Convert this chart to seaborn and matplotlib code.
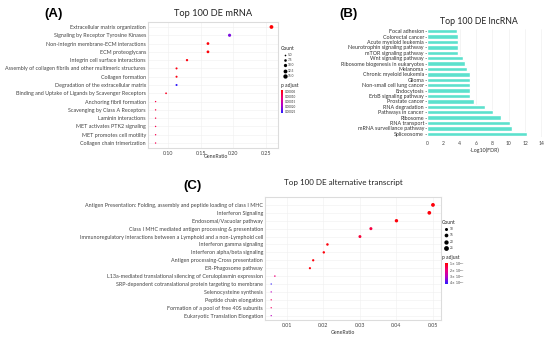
import numpy as np
import pandas as pd
import matplotlib
matplotlib.use("Agg")
import matplotlib.pyplot as plt
import seaborn as sns
from matplotlib.colors import LinearSegmentedColormap, Normalize
import matplotlib.cm as cm

W, H = 550, 339
sns.set_theme(style="white")
plt.rcParams['font.family'] = ['Lato', 'DejaVu Sans']

# ---------------- data ----------------
a_terms = ["Extracellular matrix organization",
           "Signaling by Receptor Tyrosine Kinases",
           "Non-integrin membrane-ECM interactions",
           "ECM proteoglycans",
           "Integrin cell surface interactions",
           "Assembly of collagen fibrils and other multimeric structures",
           "Collagen formation",
           "Degradation of the extracellular matrix",
           "Binding and Uptake of Ligands by Scavenger Receptors",
           "Anchoring fibril formation",
           "Scavenging by Class A Receptors",
           "Laminin interactions",
           "MET activates PTK2 signaling",
           "MET promotes cell motility",
           "Collagen chain trimerization"]
a_ratio = [0.258, 0.194, 0.161, 0.161, 0.129, 0.113, 0.113, 0.113, 0.097,
           0.081, 0.081, 0.081, 0.081, 0.081, 0.081]
a_count = [16, 12, 10, 10, 8, 7, 7, 7, 6, 5, 5, 5, 5, 5, 5]
a_padj = [4.0e-5, 2.2e-4, 4.3e-5, 4.3e-5, 4.6e-5, 4.8e-5, 4.8e-5, 2.6e-4, 6.0e-5,
          8.0e-5, 8.0e-5, 8.0e-5, 8.5e-5, 8.5e-5, 9.0e-5]
a_ticks = [0.10, 0.15, 0.20, 0.25]
a_count_breaks = [5.0, 7.5, 10.0, 12.5, 15.0]
a_p_breaks = [0.00005, 0.00010, 0.00015, 0.00020, 0.00025]

b_terms = ["Focal adhesion", "Colorectal cancer", "Acute myeloid leukemia",
           "Neurotrophin signaling pathway", "mTOR signaling pathway",
           "Wnt signaling pathway", "Ribosome biogenesis in eukaryotes",
           "Melanoma", "Chronic myeloid leukemia", "Glioma",
           "Non-small cell lung cancer", "Endocytosis", "ErbB signaling pathway",
           "Prostate cancer", "RNA degradation", "Pathways in cancer",
           "Ribosome", "RNA transport", "mRNA surveillance pathway", "Spliceosome"]
b_vals = [3.7, 3.75, 3.75, 3.75, 3.75, 4.4, 4.7, 4.9, 5.3, 5.3,
          5.3, 5.3, 5.3, 5.7, 7.1, 8.1, 9.0, 10.1, 10.4, 12.2]
b_ticks = [0, 2, 4, 6, 8, 10, 12, 14]

c_terms = ["Antigen Presentation: Folding, assembly and peptide loading of class I MHC",
           "Interferon Signaling",
           "Endosomal/Vacuolar pathway",
           "Class I MHC mediated antigen processing & presentation",
           "Immunoregulatory interactions between a Lymphoid and a non-Lymphoid cell",
           "Interferon gamma signaling",
           "Interferon alpha/beta signaling",
           "Antigen processing-Cross presentation",
           "ER-Phagosome pathway",
           "L13a-mediated translational silencing of Ceruloplasmin expression",
           "SRP-dependent cotranslational protein targeting to membrane",
           "Selenocysteine synthesis",
           "Peptide chain elongation",
           "Formation of a pool of free 40S subunits",
           "Eukaryotic Translation Elongation"]
c_ratio = [0.0500, 0.0490, 0.0400, 0.0330, 0.0300, 0.0211, 0.0201, 0.0172, 0.0163,
           0.0067, 0.0057, 0.0057, 0.0057, 0.0057, 0.0057]
c_count = [25, 24, 20, 16, 15, 11, 10, 9, 8, 4, 3, 3, 3, 3, 3]
c_padj = [1.0e-7, 1.0e-7, 1.0e-7, 1.5e-7, 1.4e-7, 1.0e-7, 1.0e-7, 1.0e-7, 1.0e-7,
          2.0e-7, 4.2e-7, 3.0e-7, 1.8e-7, 1.8e-7, 3.0e-7]
c_ticks = [0.01, 0.02, 0.03, 0.04, 0.05]
c_count_breaks = [10, 15, 20, 25]
c_p_breaks = [1e-7, 2e-7, 3e-7, 4e-7]

# ---------------- helpers ----------------
fig = plt.figure(figsize=(W / 100, H / 100), dpi=100)
fig.patch.set_facecolor("white")


def px_axes(l, t, r, b):
    return fig.add_axes([l / W, 1 - b / H, (r - l) / W, (b - t) / H])


def ftext(x, y, s, **kw):
    fig.text(x / W, 1 - y / H, s, **kw)


cmap = LinearSegmentedColormap.from_list(
    "rb", ["#ff0000", "#f0007a", "#b400c8", "#2a1cff"])
txt_gray = "#444444"
lab_fs = 3.9


def dotpanel(ax, terms, ratio, count, padj, vmin, vmax, smin, smax, sizes, xlim, ticks, ylim, fmt):
    df = pd.DataFrame({"Description": terms, "GeneRatio": ratio,
                       "Count": count, "p.adjust": padj})
    sns.scatterplot(data=df, x="GeneRatio", y="Description", hue="p.adjust",
                    size="Count", palette=cmap, hue_norm=Normalize(vmin, vmax),
                    sizes=sizes, size_norm=(smin, smax), linewidth=0,
                    legend=False, ax=ax)
    ax.set_xlim(*xlim)
    ax.set_ylim(*ylim)
    ax.set_xticks(ticks)
    ax.set_xticklabels([fmt(t) for t in ticks])
    ax.set_xlabel("")
    ax.set_ylabel("")
    ax.grid(True, color="#efefef", lw=0.4)
    ax.set_axisbelow(True)
    for s in ax.spines.values():
        s.set_color("#dcdcdc")
        s.set_linewidth(0.8)
    ax.tick_params(axis="both", length=0, pad=1.5, labelsize=lab_fs, colors=txt_gray)
    ax.tick_params(axis="x", pad=2.5)


# ---------------- Panel A ----------------
axA = px_axes(148, 22, 278, 148)
dotpanel(axA, a_terms, a_ratio, a_count, a_padj, 3.8e-5, 2.65e-4, 5, 16,
         (1.0, 7.5), (0.0694, 0.268), a_ticks, (14.6, -0.6), lambda t: f"{t:.2f}")
ftext(213, 14, "Top 100 DE mRNA", ha="center", va="center", fontsize=6.7, color="#222222")
ftext(216, 157, "GeneRatio", ha="center", va="center", fontsize=3.8, color="#333333")
ftext(54, 14.5, "(A)", ha="center", va="center", fontsize=9.5, fontweight="bold",
      family="Liberation Sans", color="black")

# legend A
legA = px_axes(0, 0, W, H)
legA.set_xlim(0, W)
legA.set_ylim(H, 0)
legA.axis("off")
legA.patch.set_alpha(0)
ftext(281, 48, "Count", ha="left", va="center", fontsize=3.6, color="#222222")
for i, c in enumerate(a_count_breaks):
    yy = 55 + i * 5.2
    sz = 1.0 + (c - 5) / (16 - 5) * (7.5 - 1.0)
    legA.scatter([285], [yy], s=sz * 1.4, color="black", linewidth=0)
    ftext(288, yy, f"{c:.1f}", ha="left", va="center", fontsize=2.3, color="#333333")
ftext(281, 85, "p adjust", ha="left", va="center", fontsize=3.6, color="#222222")
caxA = px_axes(281, 90, 283.5, 113)
cbA = fig.colorbar(cm.ScalarMappable(norm=Normalize(3.8e-5, 2.65e-4), cmap=cmap), cax=caxA)
caxA.invert_yaxis()
cbA.set_ticks(a_p_breaks)
cbA.set_ticklabels([f"{p:.5f}" for p in a_p_breaks])
cbA.outline.set_visible(False)
caxA.tick_params(length=0, labelsize=2.2, pad=1, colors="#333333")

# ---------------- Panel B ----------------
axB = px_axes(427, 28.5, 543, 136.5)
sns.barplot(x=b_vals, y=b_terms, color="#5ce1cd", orient="h", width=0.84,
            saturation=1, ax=axB)
axB.set_xlim(0, 14.2)
axB.set_ylim(19.5, -0.5)
axB.set_xticks(b_ticks)
axB.set_xticklabels([str(t) for t in b_ticks])
axB.grid(True, axis="x", color="#ececec", lw=0.4)
axB.set_axisbelow(True)
for s in axB.spines.values():
    s.set_visible(False)
axB.tick_params(axis="y", length=1.2, width=0.4, color="#555555", pad=1,
                labelsize=lab_fs, colors="#333333")
axB.tick_params(axis="y", which="both", left=True)
axB.tick_params(axis="x", length=0, pad=3, labelsize=3.6, colors="#444444")
axB.set_xlabel("")
axB.set_ylabel("")
ftext(479, 21, "Top 100 DE lncRNA", ha="center", va="center", fontsize=6.3, color="#222222")
ftext(485, 150, "-Log10(FDR)", ha="center", va="center", fontsize=3.8, color="#333333")
ftext(349, 14.5, "(B)", ha="center", va="center", fontsize=9.5, fontweight="bold",
      family="Liberation Sans", color="black")

# ---------------- Panel C ----------------
axC = px_axes(265, 197, 441, 320)
dotpanel(axC, c_terms, c_ratio, c_count, c_padj, 0.9e-7, 4.25e-7, 3, 25,
         (0.9, 7.5), (0.004, 0.0522), c_ticks, (14.55, -1.0), lambda t: f"{t:.2f}")
ftext(343, 183, "Top 100 DE alternative transcript", ha="center", va="center",
      fontsize=5.8, color="#222222")
ftext(343, 332, "GeneRatio", ha="center", va="center", fontsize=3.8, color="#333333")
ftext(192, 186, "(C)", ha="center", va="center", fontsize=9.5, fontweight="bold",
      family="Liberation Sans", color="black")

# legend C
ftext(442, 222, "Count", ha="left", va="center", fontsize=3.6, color="#222222")
for i, c in enumerate(c_count_breaks):
    yy = 229 + i * 6.4
    sz = 0.9 + (c - 3) / (25 - 3) * (7.5 - 0.9)
    legA.scatter([446], [yy], s=sz * 1.6, color="black", linewidth=0)
    ftext(450, yy, f"{c}", ha="left", va="center", fontsize=2.3, color="#333333")
ftext(442, 257, "p adjust", ha="left", va="center", fontsize=3.6, color="#222222")
caxC = px_axes(445, 263, 447.5, 284)
cbC = fig.colorbar(cm.ScalarMappable(norm=Normalize(0.9e-7, 4.25e-7), cmap=cmap), cax=caxC)
caxC.invert_yaxis()
cbC.set_ticks(c_p_breaks)
cbC.set_ticklabels([rf"${int(round(p * 1e7))}\times10^{{-7}}$" for p in c_p_breaks])
cbC.outline.set_visible(False)
caxC.tick_params(length=0, labelsize=2.3, pad=1, colors="#333333")

fig.savefig("out.png", dpi=100, facecolor="white")
